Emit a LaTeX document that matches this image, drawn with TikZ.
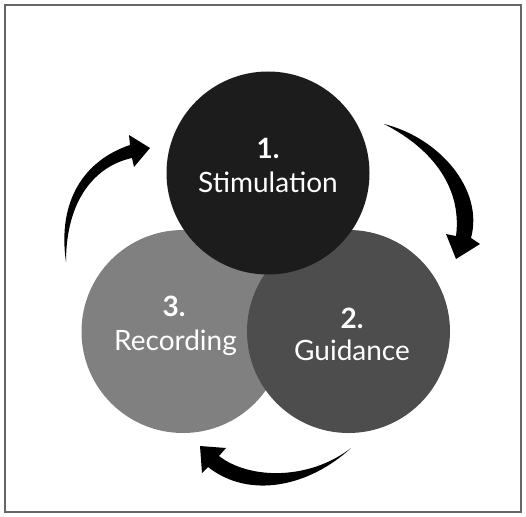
\documentclass[tikz,border=0pt]{standalone}
\usepackage{fontspec}
\setmainfont{Lato}
\definecolor{cTop}{HTML}{1C1C1C}
\definecolor{cRight}{HTML}{4D4D4D}
\definecolor{cLeft}{HTML}{808080}
\definecolor{cFrame}{HTML}{666666}
\begin{document}
\begin{tikzpicture}[x=1pt,y=-1pt,
  disc/.style={circle,inner sep=0pt,minimum size=203pt},
  numtxt/.style={text=white,anchor=base,font=\fontsize{28}{32}\selectfont\bfseries},
  lbltxt/.style={text=white,anchor=base,font=\fontsize{28}{32}\selectfont},
  swoosh/.style={fill=black,draw=none}]
\useasboundingbox (0,0) rectangle (526,516);
\draw[cFrame,line width=1.3pt] (5,5) rectangle (521,512);
% circles
\node[disc,fill=cLeft] (rec) at (183,331.5) {};
\node[disc,fill=cRight] (gui) at (348.5,331.5) {};
\node[disc,fill=cTop] (sti) at (268,173) {};
% texts
\node[numtxt] (n1) at (268,158) {1.};
\node[lbltxt] (t1) at (268,192) {Stimulation};
\node[numtxt] (n2) at (352,328) {2.};
\node[lbltxt] (t2) at (352,360) {Guidance};
\node[numtxt] (n3) at (174,316.5) {3.};
\node[lbltxt] (t3) at (175.5,350) {Recording};
% arrows
\fill[swoosh] (384,124) .. controls (440,138) and (484,190) .. (471,238)
  -- (480,244) -- (456,259) -- (446,234) -- (456,236)
  .. controls (462,190) and (435,150) .. (384,124) -- cycle;
\fill[swoosh] (351,448) .. controls (310,486) and (250,500) .. (208,467)
  -- (202,473) -- (200,446) -- (226,448) -- (219,456)
  .. controls (250,480) and (310,480) .. (351,448) -- cycle;
\fill[swoosh] (66,262) .. controls (57,200) and (85,160) .. (130,145)
  -- (129,135) -- (150,148) -- (134,167) -- (132,158)
  .. controls (95,166) and (66,200) .. (66,262) -- cycle;
\end{tikzpicture}
\end{document}
